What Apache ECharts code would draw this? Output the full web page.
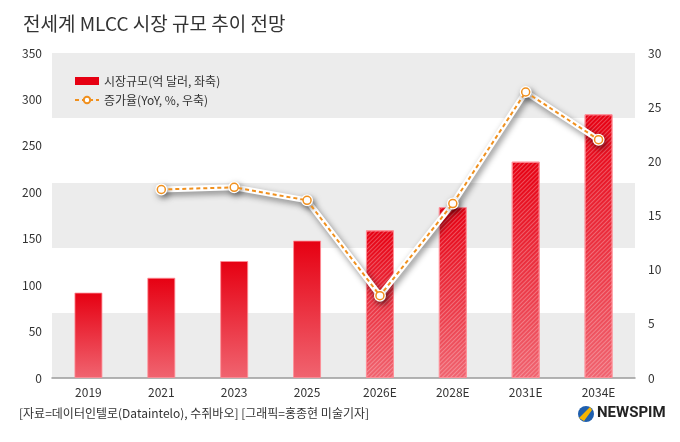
<!DOCTYPE html>
<html>
<head>
<meta charset="utf-8">
<script src="https://cdn.jsdelivr.net/npm/echarts@6/dist/echarts.min.js"></script>
<style>
html,body{margin:0;padding:0;background:#fff;}
#c{width:680px;height:442px;}
</style>
</head>
<body>
<div id="c"></div>
<script>
var categories = ['2019','2021','2023','2025','2026E','2028E','2031E','2034E'];
var marketSize = [92, 108, 126, 148, 159, 184, 233, 284];
var growthRate = [null, 17.4, 17.6, 16.4, 7.6, 16.1, 26.4, 22.0];
var leftTicks = [0, 350, 50];
var rightTicks = [0, 30, 5];

var FONT = '"Noto Sans CJK KR", "Noto Sans", sans-serif';
var chart = echarts.init(document.getElementById('c'));

var grad = new echarts.graphic.LinearGradient(0, 0, 0, 1, [
  {offset: 0, color: '#e60012'},
  {offset: 1, color: '#f06470'}
]);
var barData = marketSize.map(function (v, i) {
  var est = categories[i].indexOf('E') >= 0;
  var item = {value: v, itemStyle: {color: grad, borderColor: 'rgba(255,140,150,0.8)', borderWidth: 1}};
  if (est) {
    item.itemStyle.decal = {
      symbol: 'rect',
      dashArrayX: [1, 0],
      dashArrayY: [1, 2],
      rotation: -Math.PI / 4,
      color: 'rgba(255,255,255,0.28)'
    };
  }
  return item;
});

chart.setOption({
  animation: false,
  backgroundColor: '#fff',
  textStyle: {fontFamily: FONT},
  title: {
    text: '전세계 MLCC 시장 규모 추이 전망',
    left: 18, top: 9,
    textStyle: {fontFamily: FONT, fontSize: 19, fontWeight: 'normal', color: '#333'}
  },
  legend: {
    orient: 'vertical',
    left: 69, top: 70,
    itemWidth: 24, itemHeight: 8, itemGap: 7,
    textStyle: {fontFamily: FONT, fontSize: 12, color: '#333'},
    data: [
      {name: '시장규모(억 달러, 좌축)', icon: 'rect'},
      {name: '증가율(YoY, %, 우축)'}
    ]
  },
  grid: {left: 52, right: 45, top: 53, bottom: 64},
  xAxis: {
    type: 'category',
    data: categories,
    axisLine: {lineStyle: {color: '#9a9a9a', width: 1.5}},
    axisTick: {inside: true, length: 7, lineStyle: {color: '#9a9a9a'}},
    axisLabel: {fontFamily: FONT, fontSize: 12, color: '#333', margin: 8}
  },
  yAxis: [
    {
      type: 'value', min: leftTicks[0], max: leftTicks[1], interval: leftTicks[2],
      axisLine: {show: false}, axisTick: {show: false},
      splitLine: {show: false},
      axisLabel: {fontFamily: FONT, fontSize: 12, color: '#333', margin: 10}
    },
    {
      type: 'value', min: rightTicks[0], max: rightTicks[1], interval: rightTicks[2],
      position: 'right',
      axisLine: {show: false}, axisTick: {show: false},
      splitLine: {show: false},
      axisLabel: {fontFamily: FONT, fontSize: 12, color: '#333', margin: 13}
    },
    {
      type: 'value', min: 0, max: 350, interval: 70,
      position: 'left',
      axisLine: {show: false}, axisTick: {show: false}, axisLabel: {show: false},
      splitLine: {show: false},
      splitArea: {show: true, areaStyle: {color: ['#ececec', '#ffffff']}}
    }
  ],
  series: [
    {
      name: '시장규모(억 달러, 좌축)',
      type: 'bar',
      yAxisIndex: 0,
      barWidth: 28,
      data: barData,
      itemStyle: {color: '#e60012'}
    },
    {
      name: 'shadow',
      type: 'line',
      yAxisIndex: 1,
      data: growthRate,
      symbol: 'circle',
      symbolSize: 12,
      itemStyle: {color: '#fff', shadowColor: 'rgba(0,0,0,0.45)', shadowBlur: 6, shadowOffsetX: 2, shadowOffsetY: 3},
      lineStyle: {color: '#fff', width: 6, shadowColor: 'rgba(0,0,0,0.45)', shadowBlur: 6, shadowOffsetX: 2, shadowOffsetY: 3},
      z: 3
    },
    {
      name: '증가율(YoY, %, 우축)',
      type: 'line',
      yAxisIndex: 1,
      data: growthRate,
      symbol: 'circle',
      symbolSize: 8,
      itemStyle: {color: '#fff', borderColor: '#f0901e', borderWidth: 1.5},
      lineStyle: {color: '#f0901e', width: 2, type: [4, 3]},
      z: 4
    }
  ],
  graphic: [
    {
      type: 'text', left: 19, top: 407,
      style: {text: '[자료=데이터인텔로(Dataintelo), 수쥐바오] [그래픽=홍종현 미술기자]', font: '12px ' + FONT, fill: '#333'}
    },
    {
      type: 'circle', shape: {cx: 586, cy: 414, r: 8},
      style: {fill: '#1f5fae'}
    },
    {
      type: 'polygon', shape: {points: [[579, 418], [590, 407], [592, 410], [584, 421]]},
      style: {fill: '#f5b400'}
    },
    {
      type: 'text', left: 597, top: 406,
      style: {text: 'NEWSPIM', font: 'bold 15px "Liberation Sans Narrow", Roboto, sans-serif', fill: '#222'}
    }
  ]
});
</script>
</body>
</html>
